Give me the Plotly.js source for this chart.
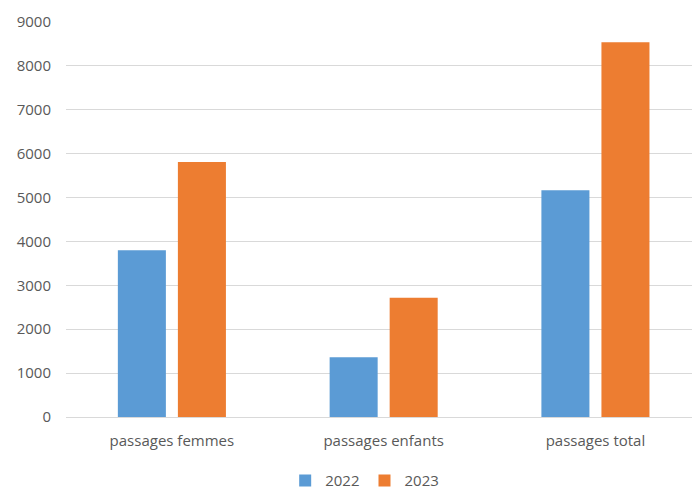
<!DOCTYPE html>
<html>
<head>
<meta charset="utf-8">
<script src="https://cdn.plot.ly/plotly-3.0.1.min.js"></script>
<style>html,body{margin:0;padding:0;background:#fff;overflow:hidden}#chart{width:692px;height:489px}</style>
</head>
<body>
<div id="chart"></div>
<script>
const categories = ["passages femmes", "passages enfants", "passages total"];
const values2022 = [3800, 1360, 5165];
const values2023 = [5810, 2718, 8536];
const seriesNames = ["2022", "2023"];

const font = {family: "Open Sans, Liberation Sans, sans-serif", size: 15, color: "#595959"};
const traces = [
  {type: "bar", name: seriesNames[0], x: categories, y: values2022, marker: {color: "#5b9bd5"}},
  {type: "bar", name: seriesNames[1], x: categories, y: values2023, marker: {color: "#ed7d31"}}
];
const layout = {
  width: 692, height: 489,
  margin: {l: 66, r: 0, t: 22, b: 72, autoexpand: false},
  barmode: "group", bargap: 0.433, bargroupgap: 0.2,
  font: font,
  paper_bgcolor: "#fff", plot_bgcolor: "#fff",
  xaxis: {range: [-0.5, 2.456], automargin: false, showgrid: false, showline: false, zeroline: false, ticks: "", ticklabelstandoff: 13, tickfont: font},
  yaxis: {range: [0, 9000], automargin: false, dtick: 1000, showgrid: true, gridcolor: "#d9d9d9", gridwidth: 1, zeroline: true, zerolinecolor: "#d9d9d9", zerolinewidth: 1, showline: false, ticks: "", ticklabelstandoff: 14, tickfont: font, tickformat: "d"},
  legend: {orientation: "h", xref: "container", yref: "container", x: 0.527, xanchor: "center", y: 0.017, yanchor: "middle", font: font, traceorder: "normal"},
  showlegend: true
};
Plotly.newPlot("chart", traces, layout, {displayModeBar: false, staticPlot: true});
</script>
</body>
</html>
